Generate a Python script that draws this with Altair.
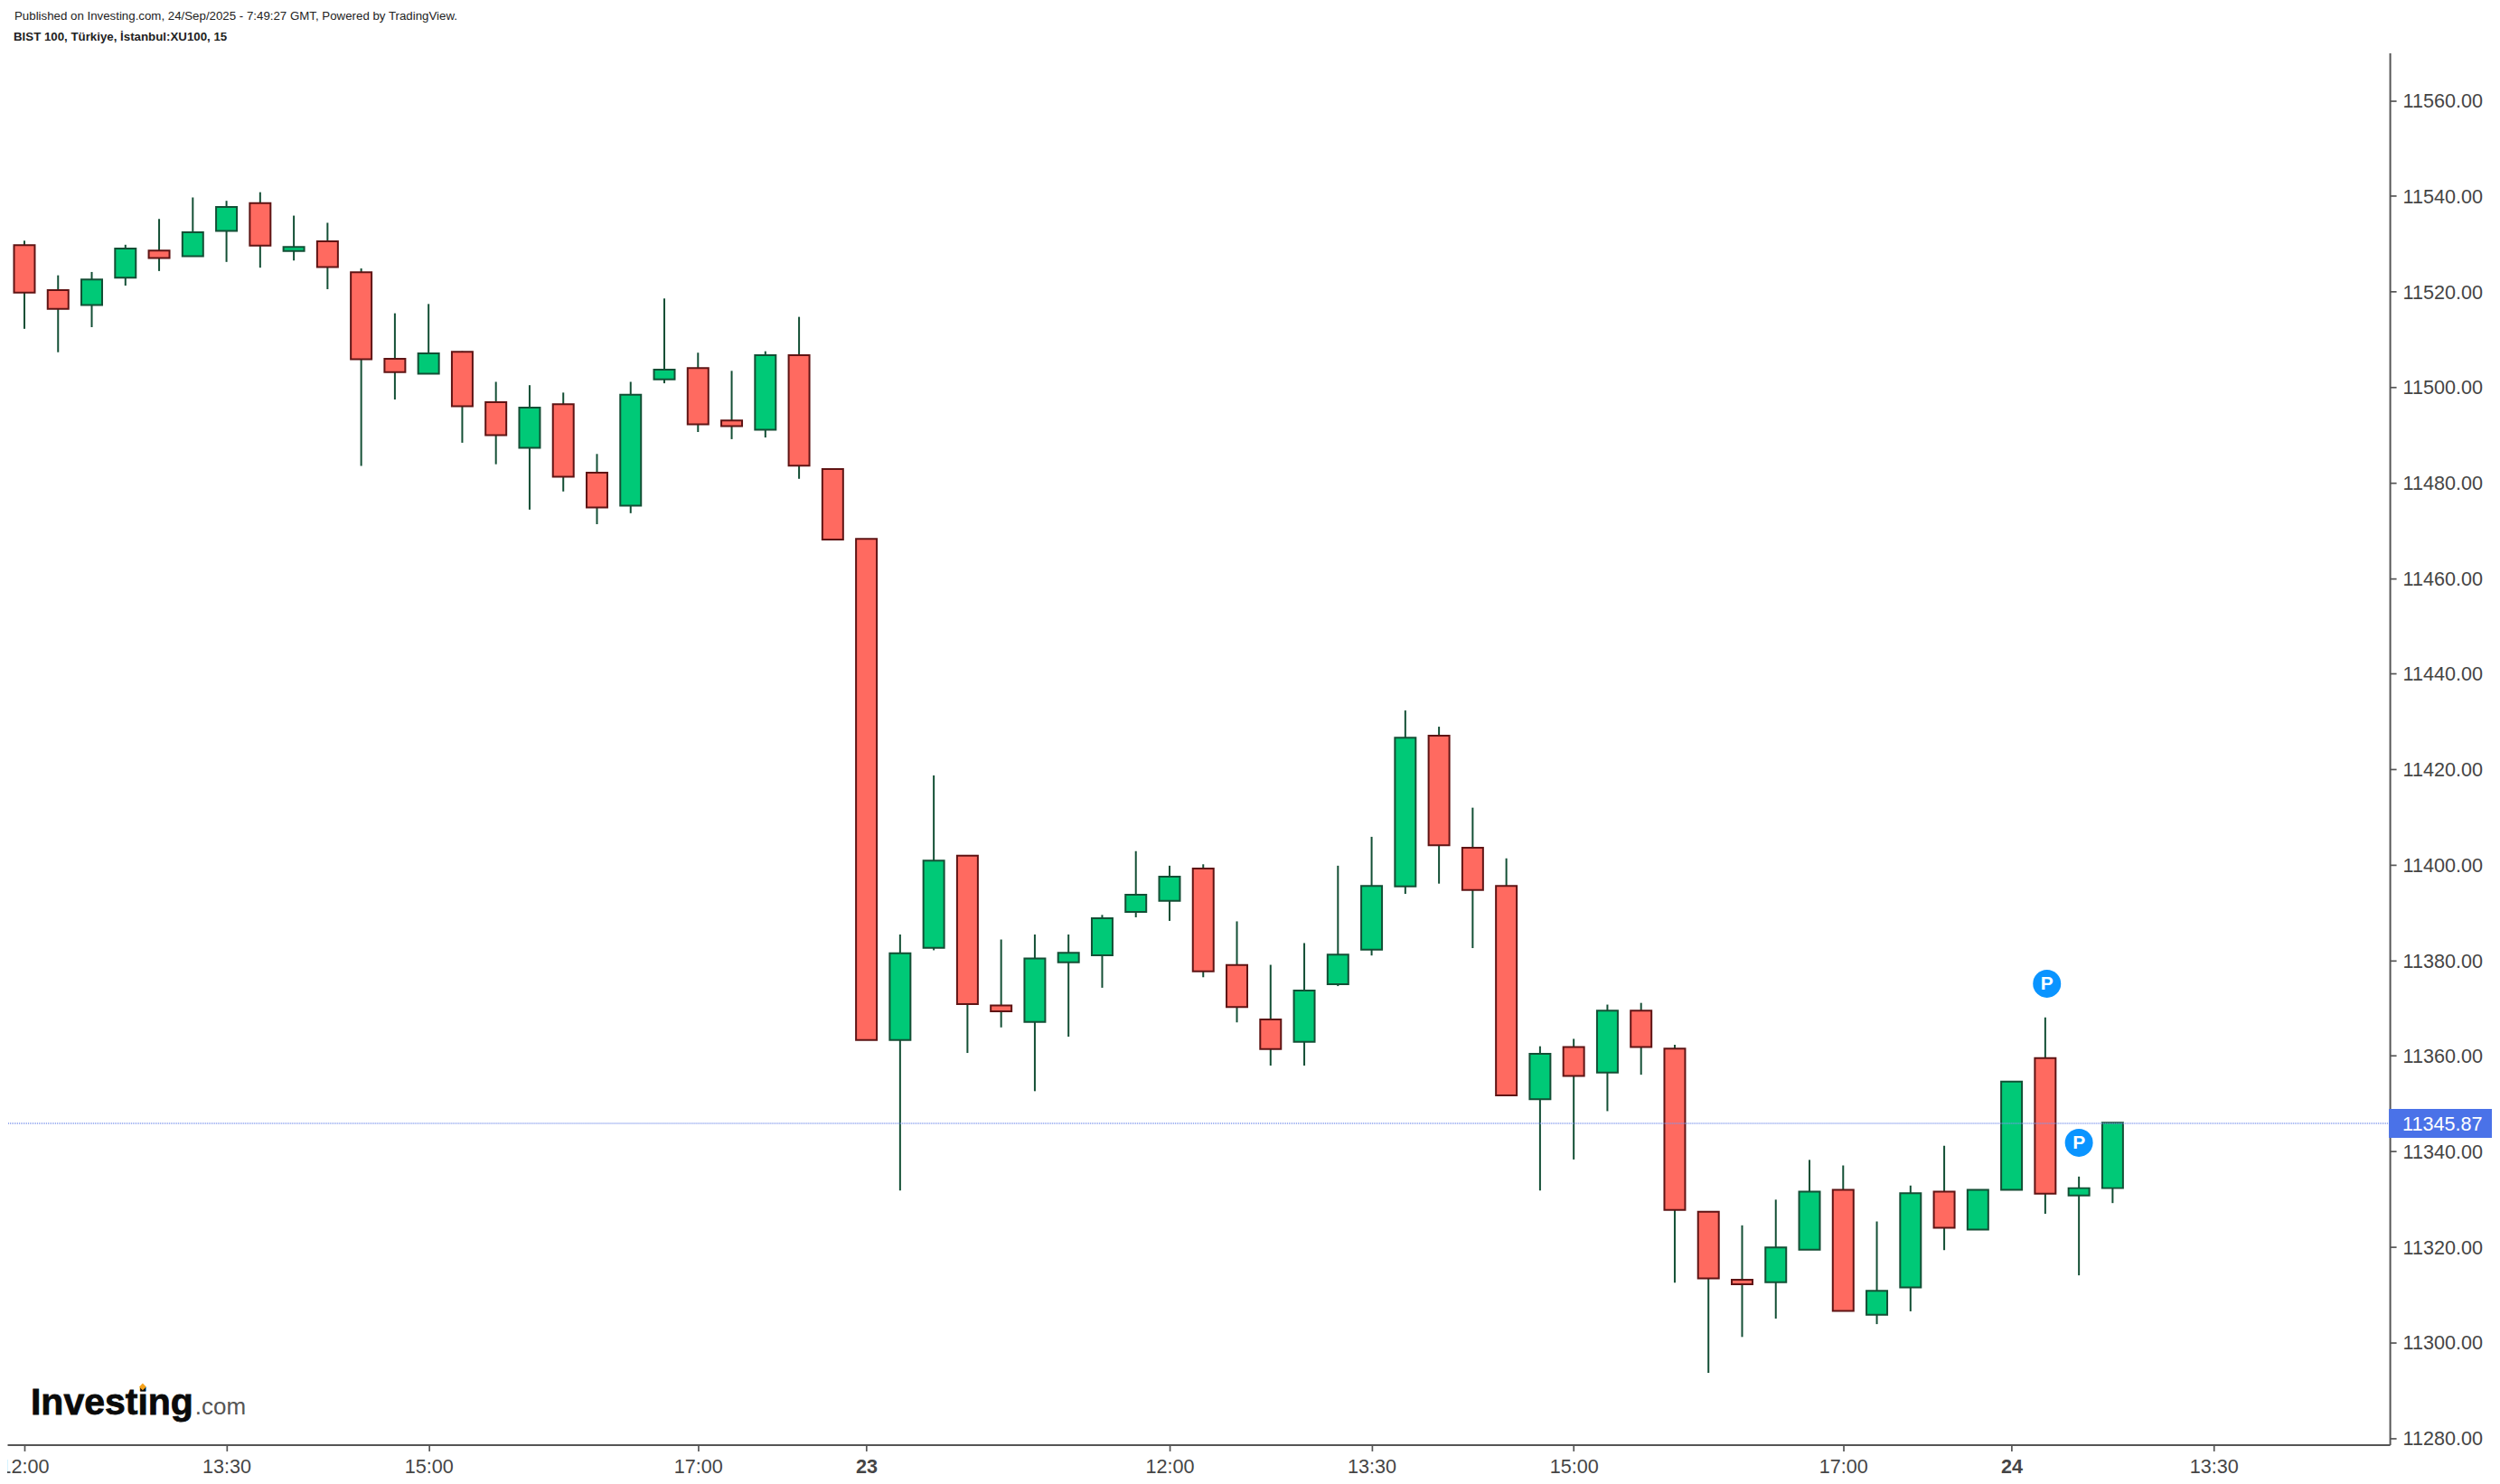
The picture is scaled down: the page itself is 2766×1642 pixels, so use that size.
import altair as alt
import pandas as pd

# body top / body bottom / high / low, one candle per 15-minute bar
up = ["R","R","G","G","R","G","G","R","G","R","R","R","G","R","R","G","R","R","G","G","R","R","G","R","R","R",
      "G","G","R","R","G","G","G","G","G","R","R","R","G","G","G","G","R","R","R","G","R","G","R","R","R","R",
      "G","G","R","G","G","R","G","G","R","G","G"]
high = [11530.65,11523.4,11524.1,11529.8,11535.2,11539.7,11539.0,11540.8,11535.9,11534.4,11524.85,11515.45,11517.4,
        11507.5,11501.1,11500.4,11498.85,11486.0,11501.1,11518.55,11507.2,11503.4,11507.5,11514.7,11482.85,11468.2,
        11385.4,11418.7,11401.9,11384.35,11385.4,11385.4,11389.5,11402.85,11399.8,11400.1,11388.15,11379.05,11383.6,
        11399.8,11405.85,11432.3,11428.9,11411.95,11401.35,11362.0,11363.55,11370.72,11371.08,11362.3,11327.38,11324.51,
        11329.89,11338.21,11337.05,11325.32,11332.84,11341.17,11331.95,11354.6,11368.04,11334.72,11346.01]
top = [11529.7,11520.3,11522.55,11529.0,11528.6,11532.4,11537.7,11538.5,11529.35,11530.5,11524.05,11505.9,11507.05,
       11507.4,11496.85,11495.7,11496.4,11482.1,11498.4,11503.65,11504.0,11493.0,11506.7,11506.7,11482.85,11468.2,
       11381.45,11400.85,11401.9,11370.55,11380.4,11381.55,11388.8,11393.7,11397.5,11399.2,11379.0,11367.6,11373.65,
       11381.2,11395.55,11426.6,11427.0,11403.55,11395.55,11360.4,11361.85,11369.47,11369.47,11361.5,11327.38,11313.14,
       11319.86,11331.59,11331.95,11310.81,11331.23,11331.59,11331.95,11354.6,11359.53,11332.3,11346.01]
bottom = [11519.8,11516.4,11517.2,11522.9,11527.0,11527.4,11532.7,11529.6,11528.5,11525.15,11505.85,11503.15,11502.8,
          11496.0,11489.95,11487.3,11481.25,11474.8,11475.2,11501.6,11492.2,11491.85,11491.05,11483.55,11468.1,11363.3,
          11363.3,11382.6,11370.85,11369.3,11367.1,11379.6,11381.05,11390.15,11392.45,11377.7,11370.2,11361.4,11362.95,
          11375.0,11382.25,11395.45,11404.1,11394.7,11351.7,11350.9,11355.8,11356.48,11361.86,11327.74,11313.41,11312.16,
          11312.6,11319.41,11306.6,11305.8,11311.53,11323.98,11323.62,11331.95,11331.14,11330.78,11332.3]
low = [11512.2,11507.3,11512.55,11521.25,11524.3,11527.4,11526.2,11525.0,11526.5,11520.5,11483.5,11497.4,11502.8,
       11488.35,11483.85,11474.35,11478.15,11471.3,11473.6,11500.8,11490.6,11489.1,11489.45,11480.8,11468.1,11363.3,
       11331.8,11382.1,11360.6,11365.95,11352.6,11364.0,11374.25,11389.0,11388.25,11376.45,11367.0,11357.95,11357.95,
       11374.6,11381.0,11393.9,11396.05,11382.55,11351.7,11331.8,11338.3,11348.42,11356.04,11312.51,11293.62,11301.14,
       11304.99,11319.41,11306.6,11303.83,11306.51,11319.32,11323.62,11331.95,11326.93,11314.04,11329.17]

x_tick_index = [0,6,12,20,25,34,40,46,54,59,65]
x_tick_label = ["12:00","13:30","15:00","17:00","23","12:00","13:30","15:00","17:00","24","13:30"]
bold_ticks = [25,59]
y_ticks = [11280,11300,11320,11340,11360,11380,11400,11420,11440,11460,11480,11500,11520,11540,11560]
last_price = 11345.87
note_index = [60.05,61.0]
note_price = [11375.1,11341.8]

RED, GREEN = "#ff6a60", "#00c977"
RED_E, GREEN_E = "#5f1414", "#134f35"
AXC = "#555555"
FONT = "Liberation Sans"
LABC = "#454545"

df = pd.DataFrame({"i":range(len(up)),"dir":up,"high":high,"top":top,"bottom":bottom,"low":low})
XS = alt.Scale(domain=[-0.5095,70.23],nice=False,zero=False,padding=0)
AX = alt.Axis(title=None,grid=False,values=x_tick_index,domainColor=AXC,domainWidth=2,tickColor=AXC,tickWidth=1.7,
              tickSize=7,labelColor=LABC,labelFont=FONT,labelFontSize=21.6,labelPadding=7,labelOverlap=False,
              labelBound=False,labelFlush=False,
              labelExpr="{"+",".join(f"'{i}':'{t}'" for i,t in zip(x_tick_index,x_tick_label))+"}[datum.value]",
              labelFontWeight=alt.expr("indexof("+str(bold_ticks)+",datum.value)>=0?'bold':'normal'"))
YS = alt.Scale(domain=[11278.6,11569.96],nice=False,zero=False,padding=0)
AY = alt.Axis(title=None,grid=False,orient="right",values=y_ticks,format=".2f",domainColor=AXC,domainWidth=2,tickColor=AXC,
              tickWidth=1.7,tickSize=7,labelColor=LABC,labelFont=FONT,labelFontSize=21.6,labelPadding=7,labelOffset=1.5,
              labelOverlap=False,labelBound=False,labelFlush=False)
def xq(f): return alt.X(f,scale=XS,axis=AX)
def yq(f): return alt.Y(f,scale=YS,axis=AY)

cdir = alt.Color("dir:N",scale=alt.Scale(domain=["R","G"],range=[RED,GREEN]),legend=None)
sdir = alt.Stroke("dir:N",scale=alt.Scale(domain=["R","G"],range=[RED_E,GREEN_E]),legend=None)

wick = alt.Chart(df).mark_rule(color=GREEN_E,strokeWidth=2).encode(x=xq("i:Q"),y=yq("high:Q"),y2="low:Q")
body = alt.Chart(df).mark_bar(size=23,strokeWidth=2,orient="vertical").encode(x=xq("i:Q"),y=yq("top:Q"),y2="bottom:Q",color=cdir,stroke=sdir)

price = pd.DataFrame({"p":[last_price],"t":[f"{last_price:.2f}"]})
pline = alt.Chart(price).mark_rule(color="#7e96ec",strokeWidth=1.5,strokeDash=[1,1]).encode(y=yq("p:Q"))
pbox = alt.Chart(price).mark_bar(color="#4a72e8",size=32,orient="horizontal",clip=False).encode(
    y=yq("p:Q"),x=alt.value(2637),x2=alt.value(2751))
ptext = alt.Chart(price).mark_text(color="white",font=FONT,fontSize=21.6,align="left",baseline="middle",dx=0,dy=2).encode(
    y=yq("p:Q"),x=alt.value(2652),text="t:N")

notes = pd.DataFrame({"i":note_index,"p":note_price,"t":["P","P"]})
ndot = alt.Chart(notes).mark_point(filled=True,color="#0a94ff",size=961,opacity=1).encode(x=xq("i:Q"),y=yq("p:Q"))
ntext = alt.Chart(notes).mark_text(color="white",font=FONT,fontWeight="bold",fontSize=21,baseline="middle",dy=1).encode(
    x=xq("i:Q"),y=yq("p:Q"),text="t:N")

def label(text,x,y,size,color,weight="normal",stroke=0):
    kw = {"stroke":color,"strokeWidth":stroke} if stroke else {}
    return alt.Chart(pd.DataFrame({"t":[text]})).mark_text(font=FONT,fontSize=size,color=color,fontWeight=weight,
        align="left",baseline="alphabetic",**kw).encode(x=alt.value(x),y=alt.value(y),text="t:N")

head1 = label("Published on Investing.com, 24/Sep/2025 - 7:49:27 GMT, Powered by TradingView.",8,-37,13.3,"#222222")
head2 = label("BIST 100, Türkiye, İstanbul:XU100, 15",7,-14,13.3,"#222222","bold")
logo1 = label("Investing",26,1508,41,"#0a0a0a","bold",0.8)
logo2 = label(".com",208,1508,26,"#555555")
leaf = alt.Chart(pd.DataFrame({"a":[1]})).mark_point(filled=True,color="#f5a21b",shape="diamond",size=60,opacity=1).encode(
    x=alt.value(150),y=alt.value(1477))

chart = alt.layer(wick,body,pline,ndot,ntext,pbox,ptext,head1,head2,logo1,logo2,leaf).resolve_scale(
    color="independent").properties(width=2638,height=1541,background="white",
    autosize=alt.AutoSizeParams(type="none"),padding={"left":0,"top":50,"right":114,"bottom":42}
).configure_view(stroke=None)
chart.save("out.html",embed_options={"renderer":"svg","actions":False})
